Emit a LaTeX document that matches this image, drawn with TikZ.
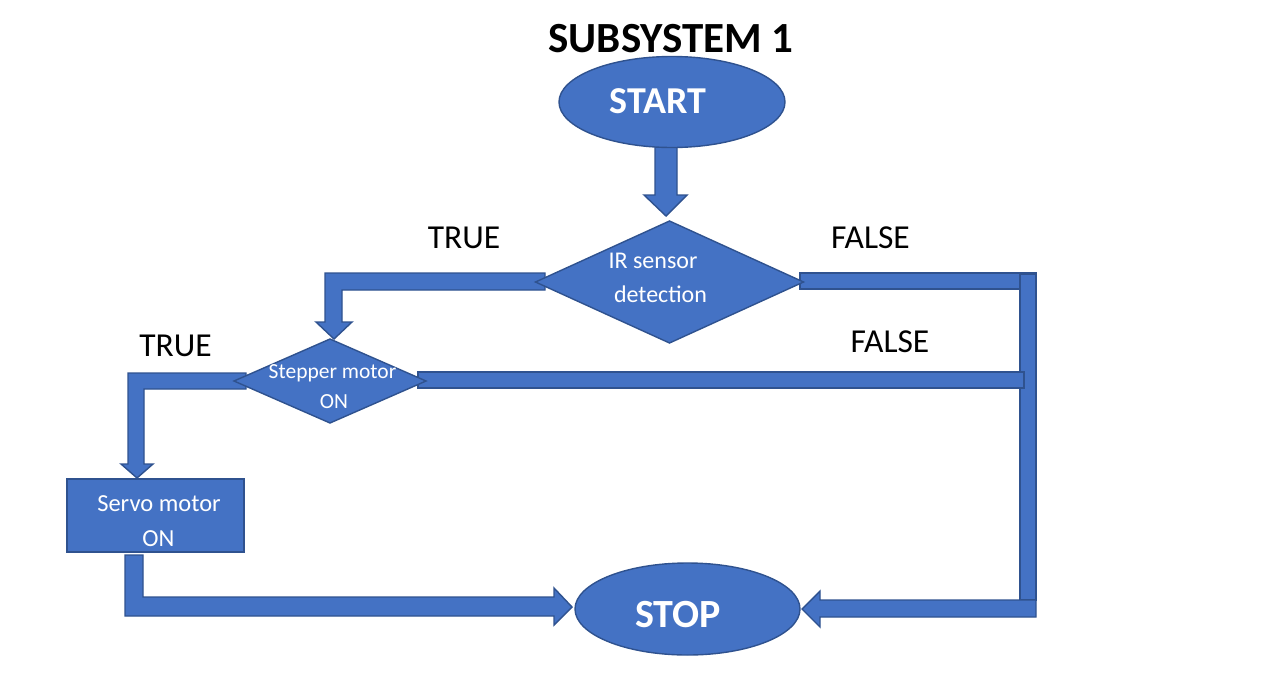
\documentclass[tikz,border=0pt]{standalone}
\usepackage{fontspec}
\setmainfont{Carlito}
\usetikzlibrary{shapes.geometric}
\definecolor{fillblue}{HTML}{4472C4}
\definecolor{edgeblue}{HTML}{2F528F}
\tikzset{
  shapebase/.style={fill=fillblue, draw=edgeblue, line width=1.4pt, inner sep=0pt, outer sep=0pt},
  terminal/.style={shapebase, ellipse},
  decision/.style={shapebase, diamond},
  process/.style={shapebase, rectangle},
  blockarrow/.style={fill=fillblue, draw=edgeblue, line width=1.4pt, line join=miter},
  intext/.style={text=white, anchor=base, inner sep=0pt},
  lbl/.style={text=black, anchor=base, inner sep=0pt, font=\fontsize{33.5}{40}\selectfont},
}
\begin{document}
\begin{tikzpicture}[x=1pt,y=-1pt]
\useasboundingbox (0,0) rectangle (1274,672);

% ---- block connectors (drawn behind the shapes)
% START -> IR sensor
\draw[blockarrow] (655,140) -- (677,140) -- (677,195) -- (687,195) -- (666,216) -- (644,195) -- (655,195) -- cycle;
% IR sensor -> Stepper (TRUE)
\draw[blockarrow] (545,273) -- (325,273) -- (325,322) -- (316,322) -- (334,339) -- (352,322) -- (342,322) -- (342,290) -- (545,290) -- cycle;
% IR sensor -> right (FALSE)
\draw[blockarrow] (800,273) rectangle (1036,289);
\draw[blockarrow] (1020,274) rectangle (1036,600);
\draw[blockarrow] (1036,600) -- (820,600) -- (820,591) -- (802,609) -- (820,627) -- (820,617) -- (1036,617) -- cycle;
% Stepper -> right (FALSE)
\draw[blockarrow] (418,372) rectangle (1024,388);
% Stepper -> Servo (TRUE)
\draw[blockarrow] (246,373) -- (128,373) -- (128,464) -- (121,464) -- (137,478) -- (153,464) -- (144,464) -- (144,389) -- (246,389) -- cycle;
% Servo -> STOP
\draw[blockarrow] (125,555) -- (143,555) -- (143,597) -- (554,597) -- (554,588) -- (572,607) -- (554,625) -- (554,616) -- (125,616) -- cycle;

% ---- shapes
\node[terminal, minimum width=226pt, minimum height=91pt] (start) at (672,102) {};
\node[decision, minimum width=268pt, minimum height=122pt] (ir) at (669.5,282) {};
\node[decision, minimum width=192pt, minimum height=84pt] (stepper) at (330,381) {};
\node[process, minimum width=177pt, minimum height=73pt] (servo) at (155.5,515.5) {};
\node[terminal, minimum width=225pt, minimum height=92pt] (stop) at (687.5,609) {};

% ---- texts
\node[anchor=base, inner sep=0pt, font=\fontsize{43}{50}\selectfont\bfseries] (title) at (671,52) {SUBSYSTEM 1};
\node[intext, font=\fontsize{38}{44}\selectfont\bfseries] (starttext) at (658,113) {START};
\node[intext, font=\fontsize{40}{48}\selectfont\bfseries] (stoptext) at (678,627) {STOP};
\node[intext, font=\fontsize{24}{28}\selectfont] (irtext1) at (653,268) {IR sensor};
\node[intext, font=\fontsize{24}{28}\selectfont] (irtext2) at (660.5,302) {detection};
\node[intext, font=\fontsize{21.5}{25}\selectfont] (steptext1) at (332.5,378) {Stepper motor};
\node[intext, font=\fontsize{21.5}{25}\selectfont] (steptext2) at (334,408) {ON};
\node[intext, font=\fontsize{24.5}{28}\selectfont] (servotext1) at (159,511) {Servo motor};
\node[intext, font=\fontsize{24.5}{28}\selectfont] (servotext2) at (158.5,546) {ON};

\node[lbl] (true1) at (464,248) {TRUE};
\node[lbl] (false1) at (870.5,248) {FALSE};
\node[lbl] (true2) at (175.5,356) {TRUE};
\node[lbl] (false2) at (890,352) {FALSE};
\end{tikzpicture}
\end{document}
